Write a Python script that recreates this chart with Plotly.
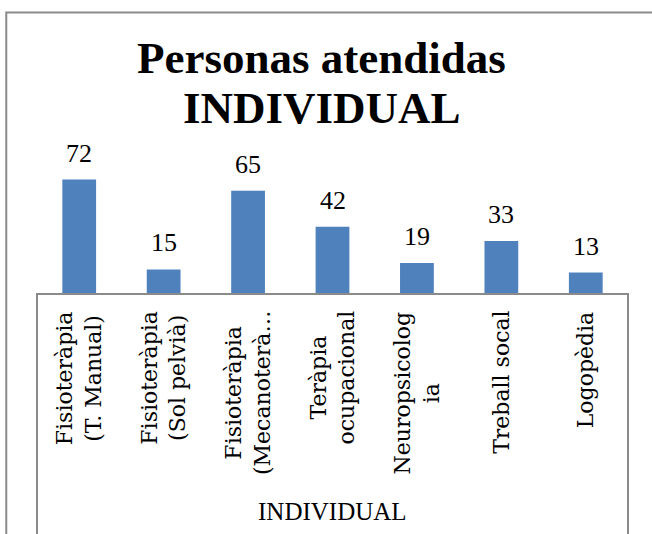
import plotly.graph_objects as go

# ---- data ----
categories = [
    "Fisioteràpia (T. Manual)",
    "Fisioteràpia (Sol pelvià)",
    "Fisioteràpia (Mecanoteràpia)",
    "Teràpia ocupacional",
    "Neuropsicologia",
    "Treball socal",
    "Logopèdia",
]
tick_labels = [
    "Fisioteràpia<br>(T. Manual)",
    "Fisioteràpia<br>(Sol pelvià)",
    "Fisioteràpia<br>(Mecanoterà…",
    "Teràpia<br>ocupacional",
    "Neuropsicolog<br>ia",
    "Treball socal",
    "Logopèdia",
]
values = [72, 15, 65, 42, 19, 33, 13]
group_label = "INDIVIDUAL"
title_lines = ["Personas atendidas", "INDIVIDUAL"]

BAR = "#4F81BD"
GRAY = "#8A8A8A"

fig = go.Figure()
fig.add_trace(go.Bar(
    x=categories, y=values,
    marker=dict(color=BAR, line=dict(width=0)),
    hoverinfo="x+y",
))

annotations = []
# value labels
for c, v in zip(categories, values):
    annotations.append(dict(
        x=c, y=v, xref="x", yref="y", text=str(v), showarrow=False,
        yanchor="bottom", xanchor="center", yshift=10,
        font=dict(family="Liberation Serif", size=26, color="#000000"),
    ))
# category labels (rotated, lines centered)
for c, t in zip(categories, tick_labels):
    annotations.append(dict(
        x=c, y=0, xref="x", yref="paper", text=t, showarrow=False,
        textangle=-90, align="center", yanchor="top", xanchor="center",
        yshift=-16,
        font=dict(family="DejaVu Serif", size=22, color="#000000"),
    ))
# group label
annotations.append(dict(
    x=0.5, y=-1.734, xref="paper", yref="paper", text=group_label,
    showarrow=False, yanchor="middle", xanchor="center",
    font=dict(family="Liberation Serif", size=25, color="#000000"),
))
# title
for txt, yy in zip(title_lines, [1.865, 1.468]):
    annotations.append(dict(
        x=0.482, y=yy, xref="paper", yref="paper", text="<b>%s</b>" % txt,
        showarrow=False, yanchor="middle", xanchor="center",
        font=dict(family="Liberation Serif", size=45, color="#000000"),
    ))

shapes = [
    # outer chart border
    dict(type="rect", xref="paper", yref="paper", x0=-0.052, x1=1.3,
         y0=-2.6, y1=2.226, line=dict(color=GRAY, width=2), layer="below"),
    # multi-level category dividers
    dict(type="line", xref="paper", yref="paper", x0=0, x1=0, y0=0, y1=-2.2,
         line=dict(color=GRAY, width=2)),
    dict(type="line", xref="paper", yref="paper", x0=1, x1=1, y0=0, y1=-2.2,
         line=dict(color=GRAY, width=2)),
]

fig.update_layout(
    width=652, height=534,
    margin=dict(l=37, r=24, t=167, b=241, pad=0),
    paper_bgcolor="white", plot_bgcolor="white",
    bargap=0.6, showlegend=False,
    annotations=annotations, shapes=shapes,
    xaxis=dict(range=[-0.5, 6.5], showticklabels=False, ticks="",
               showline=True, linecolor=GRAY, linewidth=2,
               showgrid=False, zeroline=False, fixedrange=True),
    yaxis=dict(range=[0, 80], visible=False, showgrid=False,
               zeroline=False, fixedrange=True),
)

fig.write_html("out.html")
